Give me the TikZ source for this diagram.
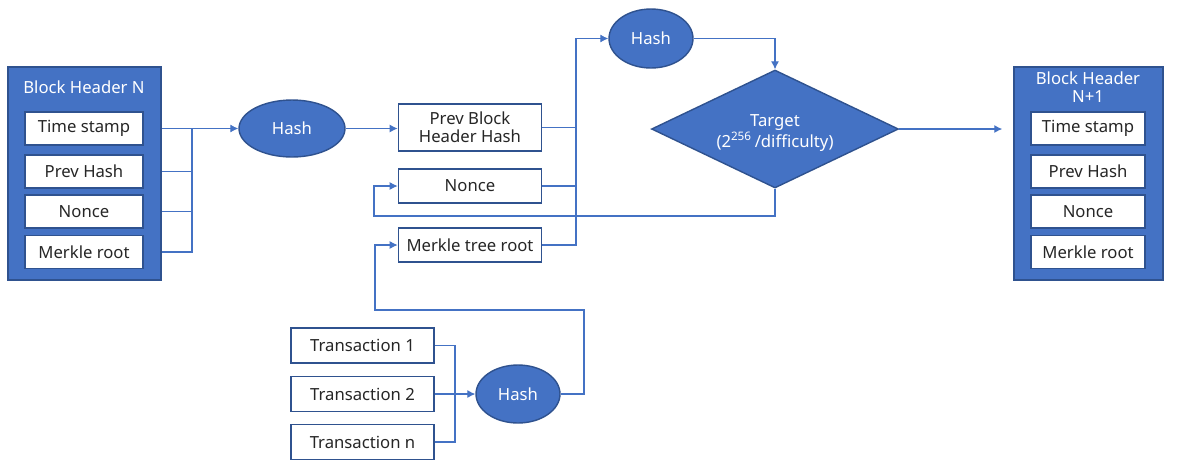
\documentclass[tikz,border=0pt]{standalone}
\usepackage{fontspec}
\setmainfont{Noto Sans}
\usepackage{tikz}
\usetikzlibrary{shapes.geometric, arrows.meta}
\definecolor{blockblue}{HTML}{4472C4}
\definecolor{edgeblue}{HTML}{2F528F}
\definecolor{textgray}{HTML}{262626}
\tikzstyle{arrow} = [-{Latex[length=4.5pt,width=4.5pt]}]
\tikzstyle{conn} = [draw=blockblue, line width=0.6pt]
\tikzstyle{outer} = [draw=edgeblue, fill=blockblue, line width=0.9pt, inner sep=0pt]
\tikzstyle{field} = [draw=edgeblue, fill=white, line width=1pt, text=textgray, inner sep=0pt, minimum height=0.66cm]
\tikzstyle{hashnode} = [ellipse, draw=edgeblue, fill=blockblue, line width=0.8pt, text=white, inner sep=0pt]

\begin{document}
\begin{tikzpicture}[x=0.02cm, y=-0.02cm, font=\fontsize{9.5}{11.5}\selectfont]
\useasboundingbox (0,0) rectangle (1182,461);
% block header N
\node[outer, minimum width=3.06cm, minimum height=4.26cm] (bhn) at (84.5,173.5) {};
\node[text=white] (bhntitle) at (84,87) {Block Header N};
\node[field, minimum width=2.36cm] (ts) at (84,128.5) {Time stamp};
\node[field, minimum width=2.36cm] (ph) at (84,171.5) {Prev Hash};
\node[field, minimum width=2.36cm] (nc) at (84,211.5) {Nonce};
\node[field, minimum width=2.36cm] (mr) at (84,252) {Merkle root};
\coordinate (busL) at (192,0);
\node[hashnode, minimum width=2.12cm, minimum height=1.14cm] (hash1) at (292,128.5) {Hash};
% middle column
\node[field, minimum width=2.86cm, minimum height=0.94cm, align=center] (pbh) at (470,127.5) {Prev Block\\[-1pt]Header Hash};
\node[field, minimum width=2.86cm, minimum height=0.68cm] (nonce) at (470,186) {Nonce};
\node[field, minimum width=2.86cm, minimum height=0.68cm] (mtr) at (470,245) {Merkle tree root};
\coordinate (busM) at (576,0);
\node[hashnode, minimum width=1.68cm, minimum height=1.18cm] (hash2) at (651,38.5) {Hash};
\node[diamond, draw=edgeblue, fill=blockblue, line width=0.8pt, inner sep=0pt,
  aspect=2, minimum width=4.94cm, minimum height=2.36cm] (target) at (775,129) {};
\node[text=white, align=center, yshift=-2.3pt] (targettext) at (target.center)
  {Target\\(2\textsuperscript{256}\,/difficulty)};
\coordinate (fbL) at (374,216);
% block header N+1
\node[outer, minimum width=2.98cm, minimum height=4.26cm] (bhn1) at (1088.5,173.5) {};
\node[text=white, align=center] (bhn1title) at (1088,87) {Block Header\\[-1pt]N+1};
\node[field, minimum width=2.28cm] (ts1) at (1088,128.5) {Time stamp};
\node[field, minimum width=2.28cm] (ph1) at (1088,171.5) {Prev Hash};
\node[field, minimum width=2.28cm] (nc1) at (1088,211.5) {Nonce};
\node[field, minimum width=2.28cm] (mr1) at (1088,252) {Merkle root};
% transactions
\node[field, minimum width=2.86cm, minimum height=0.7cm] (tx1) at (362.5,345.5) {Transaction 1};
\node[field, minimum width=2.86cm, minimum height=0.7cm] (tx2) at (362.5,394) {Transaction 2};
\node[field, minimum width=2.86cm, minimum height=0.7cm] (txn) at (362.5,442) {Transaction n};
\coordinate (busT) at (455,394);
\node[hashnode, minimum width=1.68cm, minimum height=1.16cm] (hash3) at (518,394) {Hash};
\coordinate (upR) at (584,310);
\coordinate (upL) at (375,310);

% connectors
\draw[conn] (ts.east -| bhn.east) -- (ts.east -| busL);
\draw[conn] (ph.east -| bhn.east) -- (ph.east -| busL);
\draw[conn] (nc.east -| bhn.east) -- (nc.east -| busL);
\draw[conn] (mr.east -| bhn.east) -- (mr.east -| busL) -- (ts.east -| busL);
\draw[conn, arrow] (ts.east -| busL) -- (hash1.west);
\draw[conn, arrow] (hash1.east) -- (hash1.east -| pbh.west);
\draw[conn] (pbh.east) -- (pbh.east -| busM);
\draw[conn] (nonce.east) -- (nonce.east -| busM);
\draw[conn, arrow] (mtr.east) -- (mtr.east -| busM) |- (hash2.west);
\draw[conn, arrow] (hash2.east) -| (target.north);
\draw[conn, arrow, shorten >=0.22cm] (target.east) -- (target.east -| bhn1.west);
\draw[conn, arrow] (target.south) |- (fbL) |- (nonce.west);
\draw[conn] (tx1.east) -| (busT);
\draw[conn] (txn.east) -| (busT);
\draw[conn, arrow] (tx2.east) -- (hash3.west);
\draw[conn, arrow] (hash3.east) -| (upR) -- (upL) |- (mtr.west);
\end{tikzpicture}
\end{document}
